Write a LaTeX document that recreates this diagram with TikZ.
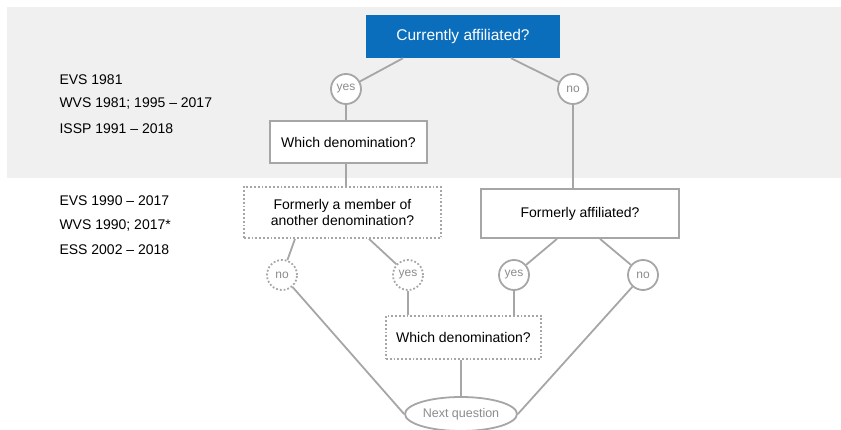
\documentclass[tikz,border=0pt]{standalone}
\usepackage{fontspec}
\setmainfont{Liberation Sans}
\usetikzlibrary{shapes.geometric}
\definecolor{bgray}{HTML}{F0F0F0}
\definecolor{lgray}{HTML}{A6A6A6}
\definecolor{tgray}{HTML}{8C8C8C}
\definecolor{qblue}{HTML}{0A6EBD}
\tikzset{
  conn/.style={draw=lgray, line width=1.8pt},
  qbox/.style={draw=lgray, line width=1.8pt, fill=white, rectangle, inner sep=0pt, font=\fontsize{14}{16.5}\selectfont, align=center},
  dqbox/.style={qbox, dotted, line width=1.8pt},
  ans/.style={circle, draw=lgray, line width=1.8pt, fill=white, minimum size=30pt, inner sep=0pt, text=tgray, font=\fontsize{12}{13}\selectfont},
  dans/.style={ans, dotted},
  side/.style={anchor=west, font=\fontsize{14}{16}\selectfont}
}
\begin{document}
\begin{tikzpicture}[x=1pt,y=-1pt]
\useasboundingbox (0,0) rectangle (841,430);
\fill[bgray] (7,7) rectangle (841,178);

\node[side] (t1) at (56,80) {EVS 1981};
\node[side] (t2) at (56,104) {WVS 1981; 1995 -- 2017};
\node[side] (t3) at (56,129) {ISSP 1991 -- 2018};
\node[side] (t4) at (56,201) {EVS 1990 -- 2017};
\node[side] (t5) at (56,226) {WVS 1990; 2017*};
\node[side] (t6) at (56,250) {ESS 2002 -- 2018};

\node[rectangle, fill=qblue, text=white, minimum width=194pt, minimum height=43pt, inner sep=0pt, font=\fontsize{15.5}{18}\selectfont] (top) at (463,36.5) {Currently affiliated?};

\node[ans] (yes1) at (346,89) {yes};
\node[ans] (no1) at (573,89) {no};

\node[qbox, minimum width=157pt, minimum height=42pt] (wd1) at (348.5,142) {Which denomination?};
\node[dqbox, minimum width=197pt, minimum height=51pt] (fm) at (342.5,212.5) {Formerly a member of\\another denomination?};
\node[qbox, minimum width=198pt, minimum height=49pt] (fa) at (580,213.5) {Formerly affiliated?};

\node[dans] (no2) at (282,275) {no};
\node[dans] (yes2) at (408,275) {yes};
\node[ans] (yes3) at (514,275) {yes};
\node[ans] (no3) at (643,275) {no};

\node[dqbox, minimum width=155pt, minimum height=43pt] (wd2) at (463.5,337.5) {Which denomination?};

\node[ellipse, draw=lgray, line width=1.8pt, fill=white, minimum width=112pt, minimum height=34pt, inner sep=0pt, text=tgray, font=\fontsize{12.5}{14}\selectfont] (nq) at (461,414) {Next question};

\draw[conn] (top.south -| 403,0) -- (yes1);
\draw[conn] (top.south -| 511,0) -- (no1);
\draw[conn] (yes1) -- (yes1 |- wd1.north);
\draw[conn] (wd1.south -| 346,0) -- (fm.north -| 346,0);
\draw[conn] (no1) -- (no1 |- fa.north);
\draw[conn] (fm.south -| 295,0) -- (no2);
\draw[conn] (fm.south -| 369,0) -- (yes2);
\draw[conn] (fa.south -| 557,0) -- (yes3);
\draw[conn] (fa.south -| 600,0) -- (no3);
\draw[conn] (yes2) -- (yes2 |- wd2.north);
\draw[conn] (yes3) -- (yes3 |- wd2.north);
\draw[conn] (wd2.south -| nq.north) -- (nq.north);
\draw[conn] (no2) -- (nq.west);
\draw[conn] (no3) -- (nq.east);
\end{tikzpicture}
\end{document}
